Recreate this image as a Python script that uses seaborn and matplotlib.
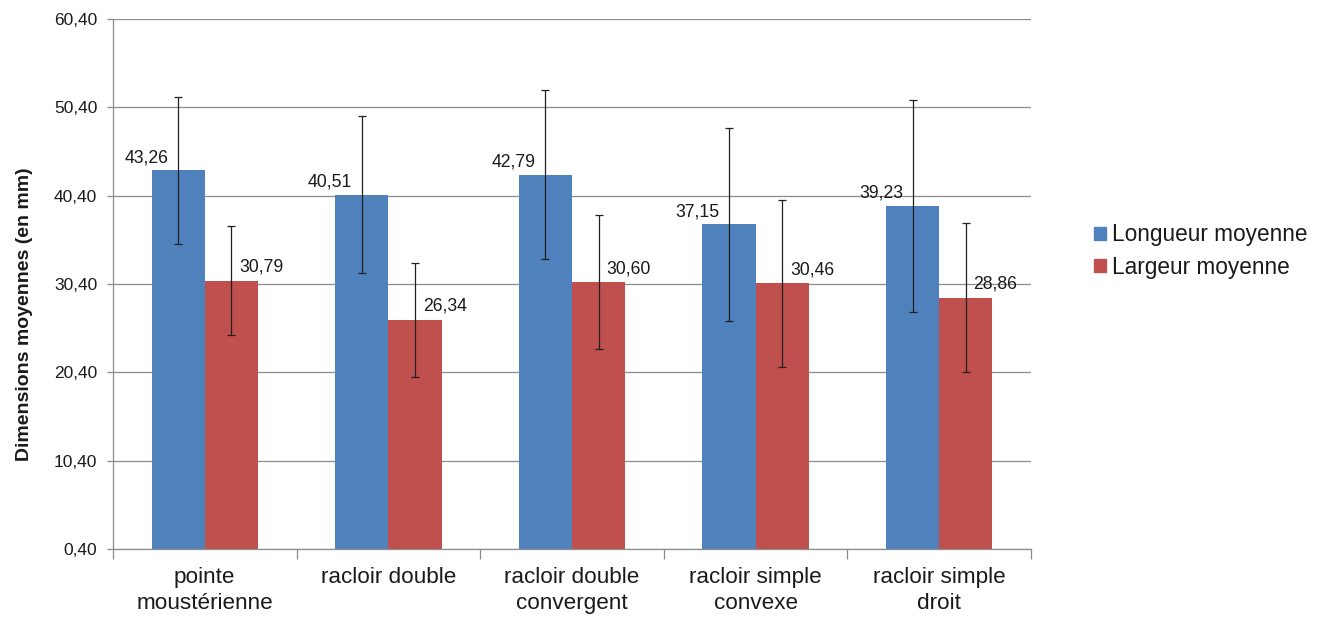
import numpy as np
import pandas as pd
import matplotlib
matplotlib.use("Agg")
import matplotlib.pyplot as plt
import seaborn as sns
from matplotlib.ticker import FixedLocator, FuncFormatter

categories = ["pointe\nmoustérienne", "racloir double", "racloir double\nconvergent",
              "racloir simple\nconvexe", "racloir simple\ndroit"]
series = ["Longueur moyenne", "Largeur moyenne"]
longueur = [43.26, 40.51, 42.79, 37.15, 39.23]
largeur = [30.79, 26.34, 30.60, 30.46, 28.86]
err_longueur = [8.34, 8.9, 9.55, 10.95, 11.99]
err_largeur = [6.2, 6.45, 7.6, 9.46, 8.45]
y_ticks = [0.4, 10.4, 20.4, 30.4, 40.4, 50.4, 60.4]

colors = ["#4F81BD", "#C0504D"]
txt = "#1a1a1a"

df = pd.DataFrame({
    "cat": categories * 2,
    "val": longueur + largeur,
    "serie": [series[0]] * 5 + [series[1]] * 5,
})

sns.set_style("white")
plt.rcParams["font.family"] = ["Liberation Sans", "DejaVu Sans"]

fig = plt.figure(figsize=(13.22, 6.17), dpi=100)
ax = fig.add_axes([113 / 1322, 1 - 549 / 617, 918 / 1322, 530 / 617])

sns.barplot(data=df, x="cat", y="val", hue="serie", palette=colors, width=0.58,
            errorbar=None, saturation=1, ax=ax, linewidth=0, legend=True)

errs = [err_longueur, err_largeur]
bar_conts = list(ax.containers)
for k, cont in enumerate(bar_conts):
    for i, bar in enumerate(cont):
        xc = bar.get_x() + bar.get_width() / 2
        h = bar.get_height()
        ax.errorbar(xc, h, yerr=errs[k][i], fmt="none", ecolor="#202020",
                    elinewidth=0.9, capsize=3, capthick=0.9, zorder=5)
        label = f"{h:.2f}".replace(".", ",")
        if k == 0:
            ax.annotate(label, (xc, h), xytext=(-7, 6), textcoords="offset points",
                        ha="right", va="baseline", fontsize=12.7, color=txt)
        else:
            ax.annotate(label, (xc, h), xytext=(5.5, 6.5), textcoords="offset points",
                        ha="left", va="baseline", fontsize=12.7, color=txt)

ax.set_xlim(-0.5, 4.5)
ax.set_ylim(0.4, 60.4)
ax.yaxis.set_major_locator(FixedLocator(y_ticks))
ax.yaxis.set_major_formatter(FuncFormatter(lambda v, p: f"{v:.2f}".replace(".", ",")))
ax.grid(axis="y", color="#8c8c8c", linewidth=0.9)
ax.set_axisbelow(True)

for s in ["top", "right"]:
    ax.spines[s].set_visible(False)
for s in ["left", "bottom"]:
    ax.spines[s].set_color("#8c8c8c")
    ax.spines[s].set_linewidth(0.9)

ax.tick_params(axis="y", which="major", length=4.3, width=0.9, color="#8c8c8c",
               labelsize=12.5, labelcolor=txt, pad=7, left=True)
ax.tick_params(axis="x", which="major", length=0, labelsize=16.2, labelcolor=txt, pad=13)
ax.set_xticks(np.arange(-0.5, 5, 1), minor=True)
ax.tick_params(axis="x", which="minor", length=7, width=0.9, color="#8c8c8c", bottom=True)
for t in ax.get_xticklabels():
    t.set_linespacing(1.3)

ax.set_xlabel("")
ax.set_ylabel("Dimensions moyennes (en mm)", fontsize=14, fontweight="bold", color=txt)
ax.yaxis.set_label_coords(-0.087, 0.443)

ax.legend_.remove()
handles = [plt.Rectangle((0, 0), 1, 1, color=c) for c in colors]
fig.legend(handles, series, loc="center left", bbox_to_anchor=(1094 / 1322, 1 - 251 / 617),
           frameon=False, fontsize=16.3, handlelength=0.53, handleheight=0.53,
           handletextpad=0.27, labelspacing=0.42, labelcolor=txt,
           borderpad=0, borderaxespad=0)

fig.savefig("out.png", dpi=100)
